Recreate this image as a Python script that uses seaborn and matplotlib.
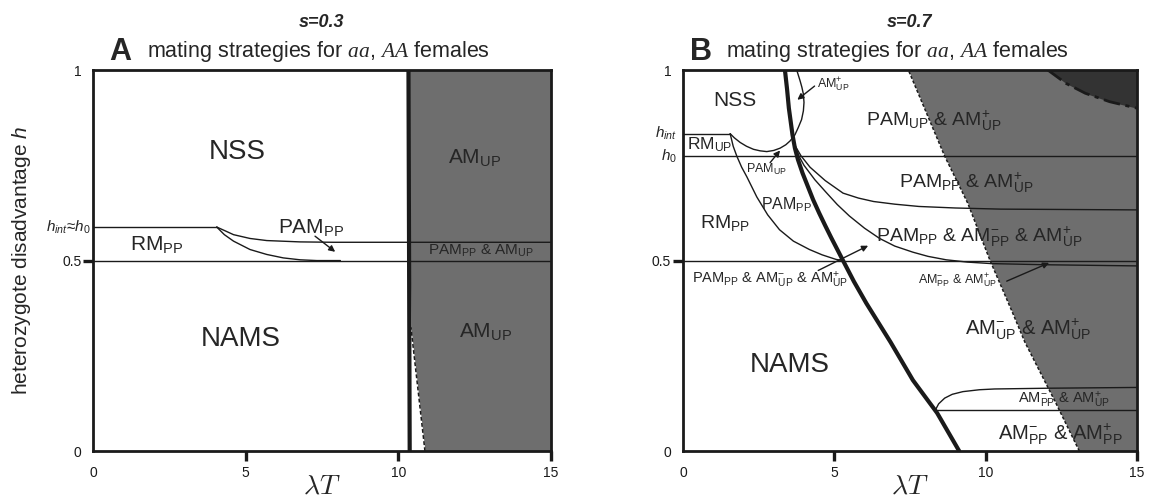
import seaborn as sns
import matplotlib.pyplot as plt

# ---- panel A (s=0.3) ----
a_thick_x = [10.33, 10.35, 10.37]
a_thick_h = [1.0, 0.5, 0.0]
a_shade_h = [0.0, 0.325, 1.0]
a_shade_x = [10.87, 10.41, 10.33]
a_hint = 0.588
a_corner = 4.05
a_upper_x = [4.05, 4.3, 4.6, 5.14, 5.69, 6.78, 7.87, 15.0]
a_upper_h = [0.588, 0.579, 0.568, 0.558, 0.5525, 0.549, 0.548, 0.548]
a_lower_x = [4.05, 4.3, 4.6, 5.14, 5.69, 6.23, 6.78, 7.33, 8.1]
a_lower_h = [0.588, 0.568, 0.551, 0.529, 0.516, 0.507, 0.502, 0.5, 0.5]

# ---- panel B (s=0.7) ----
b_hint = 0.833
b_h0 = 0.774
b_thick_x = [3.37, 3.44, 3.5, 3.56, 3.62, 3.7, 3.8, 3.95, 4.1, 4.3, 4.5, 4.7, 4.9,
             5.29, 5.65, 6.06, 6.86, 7.6, 8.4, 9.13]
b_thick_h = [1.0, 0.95, 0.9, 0.865, 0.83, 0.795, 0.765, 0.73, 0.7, 0.66, 0.625, 0.592,
             0.56, 0.5, 0.445, 0.388, 0.286, 0.186, 0.1, 0.0]
b_loop_x = [1.56, 1.7, 1.89, 2.1, 2.33, 2.55, 2.77, 3.0, 3.21, 3.4, 3.54, 3.7, 3.81,
            3.92, 3.98, 4.0, 3.98, 3.93, 3.87, 3.76]
b_loop_h = [0.833, 0.822, 0.81, 0.8, 0.792, 0.788, 0.786, 0.789, 0.795, 0.804, 0.814,
            0.83, 0.849, 0.87, 0.893, 0.915, 0.937, 0.955, 0.972, 1.0]
b_sep_x = [1.56, 1.66, 1.78, 1.94, 2.11, 2.44, 2.8, 3.19, 3.65, 4.18, 4.6, 5.06, 5.29]
b_sep_h = [0.833, 0.8, 0.774, 0.745, 0.72, 0.667, 0.62, 0.581, 0.551, 0.529, 0.515,
           0.503, 0.5]
b_upper_x = [3.68, 3.9, 4.2, 4.7, 5.29, 5.8, 6.3, 7.0, 7.8, 9.0, 10.5, 15.0]
b_upper_h = [0.805, 0.775, 0.745, 0.71, 0.677, 0.664, 0.655, 0.648, 0.642, 0.638,
             0.635, 0.633]
b_lower_x = [3.68, 3.85, 4.0, 4.36, 4.72, 5.1, 5.5, 6.0, 6.5, 7.0, 7.6, 8.1, 8.7, 9.4,
             10.2, 12.0, 15.0]
b_lower_h = [0.805, 0.772, 0.75, 0.712, 0.68, 0.647, 0.617, 0.585, 0.558, 0.538, 0.522,
             0.511, 0.502, 0.496, 0.492, 0.489, 0.486]
b_low_flat = 0.109
b_low_x = [8.35, 8.45, 8.65, 8.9, 9.25, 9.8, 10.3, 12.1, 15.0]
b_low_h = [0.109, 0.124, 0.139, 0.149, 0.156, 0.161, 0.163, 0.165, 0.167]
b_shade_h = [0.0, 0.13, 0.286, 0.362, 0.5, 0.651, 0.774, 1.0]
b_shade_x = [13.1, 12.3, 11.3, 10.9, 10.15, 9.41, 8.65, 7.45]
b_dark_x = [12.06, 12.66, 13.3, 14.1, 15.0]
b_dark_h = [1.0, 0.965, 0.939, 0.917, 0.9]

x_ticks = [0, 5, 10, 15]
y_ticks = [0, 0.5, 1]
y_ticklabels = ["0", "0.5", "1"]

GRAY = "#6e6e6e"
DARK = "#333333"

sns.set_theme(style="ticks")
plt.rcParams["font.family"] = ["Liberation Sans", "DejaVu Sans"]
plt.rcParams["mathtext.fontset"] = "custom"
plt.rcParams["mathtext.rm"] = "Liberation Sans"
plt.rcParams["mathtext.it"] = "Liberation Sans:italic"
plt.rcParams["mathtext.bf"] = "Liberation Sans:bold"
plt.rcParams["mathtext.cal"] = "Liberation Serif:italic"


def m(name, sub, sup=None):
    s = r"\mathrm{%s}" % name
    if sup is not None:
        s += "^{%s}" % sup
    s += r"_{\mathrm{%s}}" % sub
    return "$" + s + "$"


def curve(ax, x, h, lw=1.0, ls="-"):
    sns.lineplot(x=x, y=h, sort=False, estimator=None, color="k",
                 lw=lw, linestyle=ls, ax=ax)


def arrow(ax, start, tip):
    ax.annotate("", xy=tip, xytext=start,
                arrowprops=dict(arrowstyle="-|>", color="k", lw=1.0,
                                mutation_scale=9, shrinkA=0, shrinkB=0))


def style_axes(ax):
    ax.set_xlim(0, 15)
    ax.set_ylim(0, 1)
    ax.set_xticks(x_ticks)
    ax.set_xticklabels([str(t) for t in x_ticks])
    ax.set_yticks(y_ticks)
    ax.set_yticklabels(y_ticklabels)
    ax.set_xlabel("")
    ax.set_ylabel("")
    ax.tick_params(direction="out", length=7, width=2.4, labelsize=10,
                   color="k", labelcolor="k")
    ax.tick_params(axis="x", pad=4)
    ax.tick_params(axis="y", pad=1.5)
    ax.xaxis.get_major_ticks()[0].tick1line.set_visible(False)
    ax.yaxis.get_major_ticks()[0].tick1line.set_visible(False)
    ax.yaxis.get_major_ticks()[2].tick1line.set_visible(False)
    for sp in ax.spines.values():
        sp.set_visible(True)
        sp.set_linewidth(2.0)
        sp.set_color("k")
        sp.set_zorder(5)
    ax.set_facecolor("white")


fig = plt.figure(figsize=(11.49, 5.04), dpi=100)
axA = fig.add_axes([0.081, 0.105, 0.3986, 0.756])
axB = fig.add_axes([0.5944, 0.105, 0.395, 0.756])

# ---------------- panel A ----------------
ax = axA
ax.fill_betweenx(a_shade_h, a_shade_x, 15, color=GRAY, lw=0)
curve(ax, a_shade_x[:2], a_shade_h[:2], lw=1.1, ls=(0, (2.5, 1.5)))
curve(ax, [0, a_corner], [a_hint, a_hint])
curve(ax, a_upper_x, a_upper_h)
curve(ax, a_lower_x, a_lower_h)
curve(ax, [0, 15], [0.5, 0.5])
curve(ax, a_thick_x, a_thick_h, lw=3.0)
ax.text(4.73, 0.786, "NSS", fontsize=20, ha="center", va="center")
ax.text(12.5, 0.768, m("AM", "UP"), fontsize=15, ha="center", va="center")
ax.text(2.1, 0.54, m("RM", "PP"), fontsize=15, ha="center", va="center")
ax.text(7.13, 0.585, m("PAM", "PP"), fontsize=15, ha="center", va="center")
ax.text(12.7, 0.525, m("PAM", "PP") + " & " + m("AM", "UP"), fontsize=11,
        ha="center", va="center")
ax.text(4.85, 0.294, "NAMS", fontsize=20, ha="center", va="center")
ax.text(12.87, 0.312, m("AM", "UP"), fontsize=15, ha="center", va="center")
arrow(ax, (7.27, 0.564), (7.93, 0.523))
ax.text(-0.08, a_hint, r"$h_{int}$≈$h_0$", fontsize=11, ha="right", va="center")
style_axes(ax)

# ---------------- panel B ----------------
ax = axB
ax.fill_betweenx(b_shade_h, b_shade_x, 15, color=GRAY, lw=0)
ax.fill_between(b_dark_x, b_dark_h, 1.0, color=DARK, lw=0)
curve(ax, b_shade_x, b_shade_h, lw=1.1, ls=(0, (2, 1.3)))
curve(ax, b_dark_x, b_dark_h, lw=2.0, ls=(0, (6, 2, 1.5, 2)))
curve(ax, [0, b_loop_x[0]], [b_hint, b_hint])
curve(ax, [0, 15], [b_h0, b_h0])
curve(ax, [0, 15], [0.5, 0.5])
curve(ax, b_loop_x, b_loop_h)
curve(ax, b_sep_x, b_sep_h)
curve(ax, b_upper_x, b_upper_h)
curve(ax, b_lower_x, b_lower_h)
curve(ax, [b_low_x[0], 15], [b_low_flat, b_low_flat])
curve(ax, b_low_x, b_low_h)
curve(ax, b_thick_x, b_thick_h, lw=3.0)

ax.text(1.73, 0.92, "NSS", fontsize=15, ha="center", va="center")
ax.text(4.97, 0.962, m("AM", "UP", "+"), fontsize=9, ha="center", va="center")
arrow(ax, (4.35, 0.958), (3.78, 0.922))
ax.text(0.88, 0.805, m("RM", "UP"), fontsize=12.5, ha="center", va="center")
ax.text(2.77, 0.738, m("PAM", "UP"), fontsize=9, ha="center", va="center")
arrow(ax, (2.88, 0.757), (3.21, 0.789))
ax.text(3.42, 0.646, m("PAM", "PP"), fontsize=11.5, ha="center", va="center")
ax.text(1.39, 0.598, m("RM", "PP"), fontsize=14, ha="center", va="center")
ax.text(8.29, 0.867, m("PAM", "UP") + " & " + m("AM", "UP", "+"), fontsize=14,
        ha="center", va="center")
ax.text(9.37, 0.704, m("PAM", "PP") + " & " + m("AM", "UP", "+"), fontsize=14,
        ha="center", va="center")
ax.text(9.79, 0.562, m("PAM", "PP") + " & " + m("AM", "PP", "-") + " & "
        + m("AM", "UP", "+"), fontsize=14, ha="center", va="center")
ax.text(2.87, 0.448, m("PAM", "PP") + " & " + m("AM", "UP", "-") + " & "
        + m("AM", "UP", "+"), fontsize=10.5, ha="center", va="center")
arrow(ax, (4.47, 0.474), (6.12, 0.539))
ax.text(9.08, 0.446, m("AM", "PP", "-") + " & " + m("AM", "UP", "+"), fontsize=9,
        ha="center", va="center")
arrow(ax, (10.7, 0.446), (12.1, 0.494))
ax.text(11.4, 0.32, m("AM", "UP", "-") + " & " + m("AM", "UP", "+"), fontsize=14.5,
        ha="center", va="center")
ax.text(3.52, 0.225, "NAMS", fontsize=20, ha="center", va="center")
ax.text(12.6, 0.135, m("AM", "PP", "-") + " & " + m("AM", "UP", "+"), fontsize=10.5,
        ha="center", va="center")
ax.text(12.47, 0.044, m("AM", "PP", "-") + " & " + m("AM", "PP", "+"), fontsize=14.5,
        ha="center", va="center")
ax.text(-0.2, b_hint, r"$h_{int}$", fontsize=11, ha="right", va="center")
ax.text(-0.2, b_h0, r"$h_0$", fontsize=11, ha="right", va="center")
style_axes(ax)

# ---------------- figure texts ----------------
fig.text(0.280, 0.946, "s=0.3", fontsize=13, fontweight="bold", fontstyle="italic",
         ha="center", va="baseline")
fig.text(0.792, 0.946, "s=0.7", fontsize=13, fontweight="bold", fontstyle="italic",
         ha="center", va="baseline")
fig.text(0.105, 0.881, "A", fontsize=22, fontweight="bold", ha="center", va="baseline")
fig.text(0.610, 0.881, "B", fontsize=22, fontweight="bold", ha="center", va="baseline")
title = r"mating strategies for $\mathcal{aa}$, $\mathcal{AA}$ females"
fig.text(0.128, 0.887, title, fontsize=15.5, ha="left", va="baseline")
fig.text(0.632, 0.887, title, fontsize=15.5, ha="left", va="baseline")
fig.text(0.280, 0.034, r"$\lambda T$", fontsize=20, ha="center", va="center",
         math_fontfamily="cm")
fig.text(0.792, 0.034, r"$\lambda T$", fontsize=20, ha="center", va="center",
         math_fontfamily="cm")
fig.text(0.019, 0.484, "heterozygote disadvantage $h$", fontsize=15, rotation=90,
         ha="center", va="center")

fig.savefig("out.png", dpi=100)
